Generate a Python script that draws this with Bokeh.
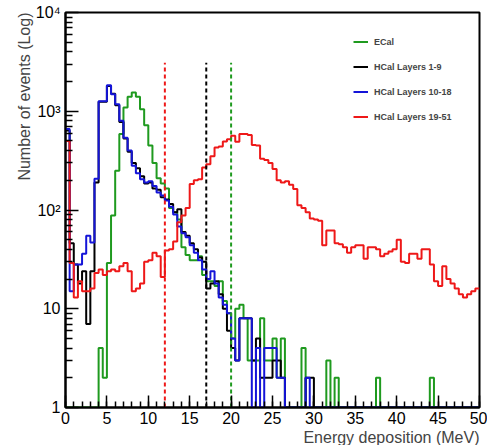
import numpy as np
from bokeh.plotting import figure
from bokeh.models import (Range1d, FixedTicker, CustomJSTickFormatter, Legend,
                          LegendItem, Title)
from bokeh.embed import file_html
from bokeh.resources import INLINE

# Energy deposition histograms, 100 bins of 0.5 MeV between 0 and 50 MeV
bin_width = 0.5
x_min, x_max = 0.0, 50.0

ecal = [
    0, 0, 0, 0, 0, 0, 0, 0, 4, 2,
    29, 88, 250, 590, 1090, 1400, 1550, 1400, 1050, 720,
    450, 300, 210, 185, 165, 105, 95, 80, 42, 35,
    31, 31, 34, 22, 19, 19, 17, 19, 12, 9,
    5, 10, 11, 8, 3, 3, 3, 8, 3, 3,
    5, 2, 5, 0, 0, 0, 0, 4, 0, 0,
    0, 0, 0, 3, 0, 2, 0, 0, 0, 0,
    0, 0, 0, 0, 0, 2, 0, 0, 0, 0,
    0, 0, 0, 0, 0, 0, 0, 0, 2, 0,
    0, 0, 0, 0, 0, 0, 0, 0, 0, 0,
]

hcal_1_9 = [
    640, 46, 28, 18, 24, 7, 24, 190, 1250, 1250,
    1800, 1500, 1150, 780, 530, 390, 300, 265, 220, 185,
    190, 165, 160, 135, 128, 115, 95, 102, 60, 55,
    46, 40, 33, 30, 16, 18, 19, 14, 10, 6,
    4, 3, 8, 8, 8, 3, 5, 2, 2, 2,
    3, 3, 2, 0, 0, 0, 0, 0, 2, 2,
    0, 0, 0, 0, 0, 0, 0, 0, 0, 0,
    0, 0, 0, 0, 0, 0, 0, 0, 0, 0,
    0, 0, 0, 0, 0, 0, 0, 0, 0, 0,
    0, 0, 0, 0, 0, 0, 0, 0, 0, 0,
]

hcal_10_18 = [
    660, 15, 28, 28, 36, 55, 47, 207, 1260, 1260,
    1830, 1490, 1180, 800, 540, 400, 280, 235, 205, 190,
    195, 175, 150, 140, 125, 108, 90, 68, 58, 53,
    44, 37, 31, 25, 20, 24, 18, 13, 11, 9,
    5, 3, 8, 8, 8, 0, 4, 0, 4, 4,
    4, 2, 2, 0, 0, 0, 0, 0, 2, 0,
    0, 0, 0, 0, 0, 0, 0, 0, 0, 0,
    0, 0, 0, 0, 0, 0, 0, 0, 0, 0,
    0, 0, 0, 0, 0, 0, 0, 0, 0, 0,
    0, 0, 0, 0, 0, 0, 0, 0, 0, 0,
]

hcal_19_51 = [
    500, 29, 13, 19, 15, 15, 16, 23, 25, 22,
    24, 25, 24, 27, 29, 24, 15, 16, 18, 30,
    31, 37, 34, 21, 39, 40, 48, 75, 88, 105,
    183, 200, 205, 270, 290, 350, 430, 440, 495, 520,
    565, 490, 590, 590, 575, 455, 450, 330, 320, 300,
    260, 200, 190, 195, 180, 163, 112, 105, 95, 82,
    80, 78, 44, 62, 62, 46, 45, 42, 37, 42,
    44, 44, 32, 42, 42, 40, 34, 36, 38, 40,
    50, 30, 29, 36, 36, 32, 40, 40, 28, 19,
    17, 27, 20, 18, 16, 14, 13, 14, 15, 16,
]

series_names = ["ECal", "HCal Layers 1-9", "HCal Layers 10-18", "HCal Layers 19-51"]
series_values = [ecal, hcal_1_9, hcal_10_18, hcal_19_51]
series_colors = ["#1f9a1f", "#000000", "#1414d8", "#ee1818"]

# Vertical cut markers (energy thresholds), one per colour
cut_energies = [12, 17, 20]
cut_colors = ["#ee1818", "#000000", "#1f9a1f"]
cut_top = 3100

x_ticks = list(range(0, 51, 5))
x_minor_ticks = list(range(0, 51, 1))
y_ticks = [1, 10, 100, 1000, 10000]
y_minor_ticks = [m * d for d in (1, 10, 100, 1000) for m in range(2, 10)]

FONT = "Liberation Sans"
y_floor = 1.0

p = figure(width=487, height=445,
           x_range=Range1d(x_min, x_max), y_range=Range1d(y_floor, 1e4),
           y_axis_type="log", output_backend="svg", toolbar_location=None,
           min_border_left=65, min_border_right=8, min_border_top=12,
           min_border_bottom=37)
p.background_fill_color = "white"
p.border_fill_color = "white"
p.outline_line_color = "black"
p.outline_line_width = 2
p.xgrid.visible = False
p.ygrid.visible = False

edges = np.arange(len(ecal) + 1) * bin_width + x_min
renderers = []
for name, vals, col in zip(series_names, series_values, series_colors):
    v = np.maximum(np.asarray(vals, dtype=float), y_floor)
    y = np.append(v, v[-1])
    r = p.step(x=edges, y=y, mode="after", line_color=col, line_width=2)
    renderers.append((name, r))

p.segment(x0=cut_energies, y0=[y_floor] * len(cut_energies),
          x1=cut_energies, y1=[cut_top] * len(cut_energies),
          line_color=cut_colors, line_width=2, line_dash="4 3")

# Axes in the usual ROOT style: ticks pointing inwards
xa = p.xaxis[0]
xa.ticker = FixedTicker(ticks=x_ticks, minor_ticks=x_minor_ticks)
xa.major_tick_in = 12
xa.major_tick_out = 0
xa.minor_tick_in = 6
xa.minor_tick_out = 0
xa.axis_line_width = 2
xa.major_tick_line_width = 1.5
xa.minor_tick_line_width = 1.5
xa.major_label_text_font = FONT
xa.major_label_text_font_size = "16px"
xa.major_label_text_color = "black"
xa.major_label_standoff = 4

ya = p.yaxis[0]
ya.ticker = FixedTicker(ticks=y_ticks, minor_ticks=y_minor_ticks)
ya.formatter = CustomJSTickFormatter(code="""
const lab = {1: '1', 10: '10', 100: '10\u00b2', 1000: '10\u00b3', 10000: '10\u2074'};
return lab[Math.round(tick)] ?? '';
""")
ya.major_tick_in = 13
ya.major_tick_out = 0
ya.minor_tick_in = 7
ya.minor_tick_out = 0
ya.axis_line_width = 2
ya.major_tick_line_width = 1.5
ya.minor_tick_line_width = 1.5
ya.major_label_text_font = FONT
ya.major_label_text_font_size = "16px"
ya.major_label_text_color = "black"
ya.major_label_standoff = 5

p.add_layout(Title(text="Energy deposition (MeV)", align="right",
                   text_font=FONT, text_font_size="16px",
                   text_font_style="normal", standoff=0, offset=0), "below")
p.add_layout(Title(text="Number of events (Log)", align="right",
                   text_font=FONT, text_font_size="16px",
                   text_font_style="normal", standoff=0, offset=0), "left")

legend = Legend(items=[LegendItem(label=n, renderers=[r]) for n, r in renderers],
                location=(288, 283), orientation="vertical",
                glyph_width=15, glyph_height=15, label_height=15,
                label_standoff=6, spacing=10, padding=0, margin=0,
                label_text_font=FONT, label_text_font_size="9px",
                label_text_font_style="bold",
                border_line_alpha=0, background_fill_alpha=0)
p.add_layout(legend)

open("out.html", "w").write(file_html(p, INLINE))
